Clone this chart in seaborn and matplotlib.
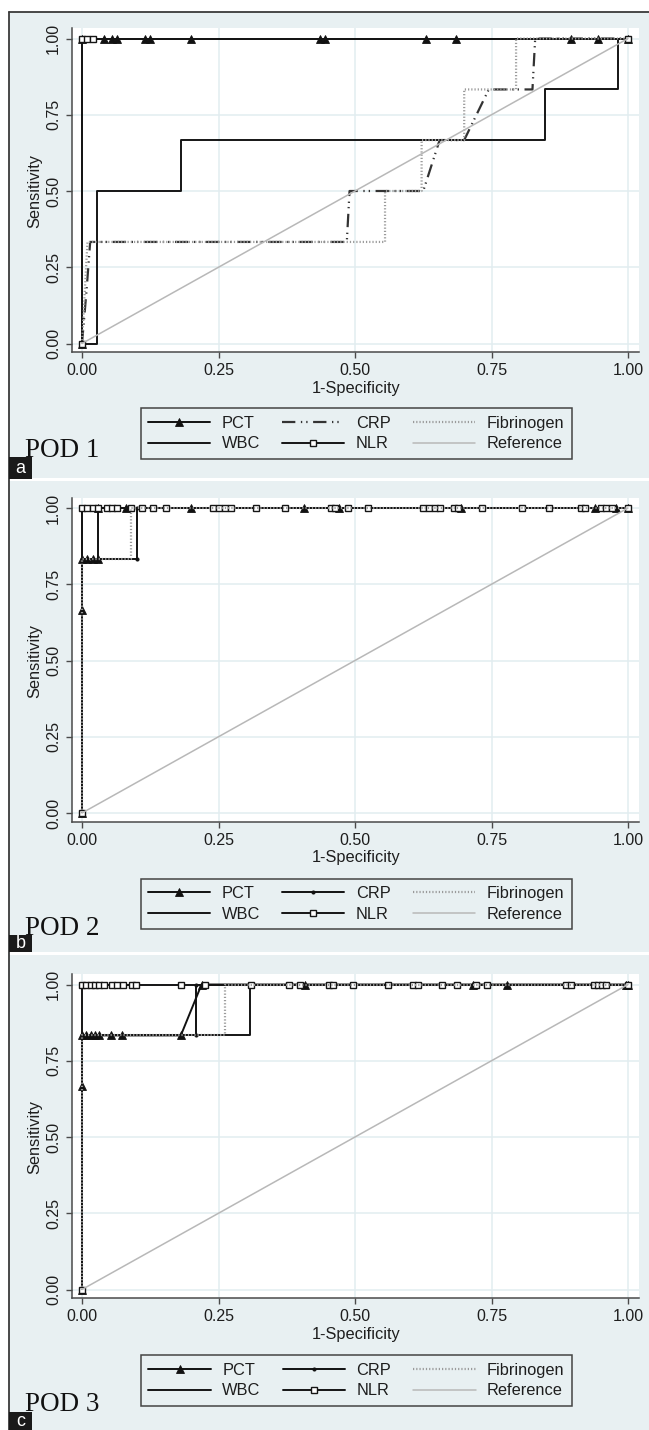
import matplotlib
matplotlib.use("Agg")
import matplotlib.pyplot as plt
from matplotlib.patches import Rectangle
from matplotlib.lines import Line2D
import seaborn as sns

sns.set_theme(style="white")
plt.rcParams['font.family'] = ['Liberation Sans', 'DejaVu Sans']

# ------------------------------------------------------------------ data
TICKS = [0.0, 0.25, 0.50, 0.75, 1.00]
TICK_LABELS = ["0.00", "0.25", "0.50", "0.75", "1.00"]
SERIES = ["PCT", "CRP", "Fibrinogen", "WBC", "NLR", "Reference"]
PANEL_TITLES = ["POD 1", "POD 2", "POD 3"]
PANEL_LETTERS = ["a", "b", "c"]

# POD 1
pod1_pct_x = [0, 0, 0.04, 0.055, 0.065, 0.115, 0.125, 0.20, 0.435, 0.445, 0.63, 0.685, 0.895, 0.945, 1.0]
pod1_pct_y = [0, 1, 1, 1, 1, 1, 1, 1, 1, 1, 1, 1, 1, 1, 1]
pod1_crp_x = [0, 0.008, 0.015, 0.485, 0.49, 0.625, 0.655, 0.70, 0.745, 0.825, 0.83, 1.0]
pod1_crp_y = [0, 0.167, 0.333, 0.333, 0.5, 0.5, 0.667, 0.667, 0.833, 0.833, 1.0, 1.0]
pod1_fib_x = [0, 0.005, 0.01, 0.555, 0.555, 0.622, 0.622, 0.70, 0.70, 0.795, 0.795, 1.0]
pod1_fib_y = [0, 0.167, 0.333, 0.333, 0.5, 0.5, 0.667, 0.667, 0.833, 0.833, 1.0, 1.0]
pod1_wbc_x = [0, 0.028, 0.028, 0.181, 0.181, 0.848, 0.848, 0.982, 0.982, 1.0]
pod1_wbc_y = [0, 0, 0.5, 0.5, 0.667, 0.667, 0.833, 0.833, 1.0, 1.0]
pod1_nlr_x = [0, 0, 0.01, 0.02, 1.0]
pod1_nlr_y = [0, 1, 1, 1, 1]

# POD 2
pod2_pct_x = [0, 0, 0, 0.01, 0.02, 0.029, 0.029, 0.081, 0.20, 0.406, 0.47, 0.695, 0.94, 0.978, 1.0]
pod2_pct_y = [0, 0.667, 0.833, 0.833, 0.833, 0.833, 1, 1, 1, 1, 1, 1, 1, 1, 1]
pod2_crp_x = [0, 0, 0.10, 0.10, 1.0]
pod2_crp_y = [0, 0.833, 0.833, 1.0, 1.0]
pod2_fib_x = [0, 0, 0.09, 0.09, 1.0]
pod2_fib_y = [0, 0.833, 0.833, 1.0, 1.0]
pod2_wbc_x = [0, 0, 1.0]
pod2_wbc_y = [0, 1.0, 1.0]
pod2_nlr_x = [0, 0, 0.01, 0.02, 0.03, 0.045, 0.055, 0.065, 0.09, 0.11, 0.13, 0.153, 0.24, 0.25,
              0.262, 0.272, 0.318, 0.371, 0.456, 0.463, 0.488, 0.524, 0.625, 0.636, 0.647, 0.656,
              0.681, 0.689, 0.732, 0.806, 0.856, 0.914, 0.922, 0.95, 0.96, 0.97, 1.0]
pod2_nlr_y = [0] + [1] * 36

# POD 3
pod3_pct_x = [0, 0, 0, 0.008, 0.016, 0.024, 0.032, 0.054, 0.073, 0.181, 0.219, 0.408, 0.716, 0.778, 0.997, 1.0]
pod3_pct_y = [0, 0.667, 0.833, 0.833, 0.833, 0.833, 0.833, 0.833, 0.833, 0.833, 1, 1, 1, 1, 1, 1]
pod3_crp_x = [0, 0, 0.208, 0.208, 1.0]
pod3_crp_y = [0, 0.833, 0.833, 1.0, 1.0]
pod3_fib_x = [0, 0, 0.262, 0.262, 1.0]
pod3_fib_y = [0, 0.833, 0.833, 1.0, 1.0]
pod3_wbc_x = [0, 0, 0.308, 0.308, 1.0]
pod3_wbc_y = [0, 0.833, 0.833, 1.0, 1.0]
pod3_nlr_x = [0, 0, 0.008, 0.016, 0.024, 0.032, 0.04, 0.055, 0.065, 0.075, 0.091, 0.098, 0.182, 0.226,
              0.31, 0.38, 0.399, 0.452, 0.46, 0.497, 0.56, 0.607, 0.615, 0.66, 0.687, 0.721, 0.742,
              0.887, 0.895, 0.937, 0.945, 0.953, 0.96, 1.0]
pod3_nlr_y = [0] + [1] * 33

ref_x = [0, 1]
ref_y = [0, 1]

PANELS = [
    dict(pct=(pod1_pct_x, pod1_pct_y), crp=(pod1_crp_x, pod1_crp_y), fib=(pod1_fib_x, pod1_fib_y),
         wbc=(pod1_wbc_x, pod1_wbc_y), nlr=(pod1_nlr_x, pod1_nlr_y), crp_dashed=True),
    dict(pct=(pod2_pct_x, pod2_pct_y), crp=(pod2_crp_x, pod2_crp_y), fib=(pod2_fib_x, pod2_fib_y),
         wbc=(pod2_wbc_x, pod2_wbc_y), nlr=(pod2_nlr_x, pod2_nlr_y), crp_dashed=False),
    dict(pct=(pod3_pct_x, pod3_pct_y), crp=(pod3_crp_x, pod3_crp_y), fib=(pod3_fib_x, pod3_fib_y),
         wbc=(pod3_wbc_x, pod3_wbc_y), nlr=(pod3_nlr_x, pod3_nlr_y), crp_dashed=False),
]

# ------------------------------------------------------------------ layout
W, H = 649, 1430
DPI = 100
BG = "#e8f0f2"
GRID = "#e2edf0"
AX_COL = "#4a4a4a"
TXT = "#1e1e1e"

fig = plt.figure(figsize=(W / DPI, H / DPI), dpi=DPI)
fig.patch.set_facecolor("white")


def fx(px):
    return px / W


def fy(py):
    return 1 - py / H


def rect(x0, y0, x1, y1, **kw):
    r = Rectangle((fx(x0), fy(y1)), fx(x1) - fx(x0), fy(y0) - fy(y1),
                  transform=fig.transFigure, **kw)
    fig.patches.append(r)


# panel frames (top px, bottom px)
frames = [(12, 478.5), (481, 952), (955, 1431)]
for (t, b) in frames:
    rect(9, t, 650, b, facecolor=BG, edgecolor="none", zorder=-2)
fig.lines.append(Line2D([fx(9), fx(9)], [fy(12), fy(1431)], transform=fig.transFigure,
                        color="#3a3a3a", lw=1.3, zorder=-1))
fig.lines.append(Line2D([fx(9), fx(650)], [fy(12), fy(12)], transform=fig.transFigure,
                        color="#3a3a3a", lw=1.3, zorder=-1))

offsets = [0, 469.5, 946]
legend_centers = [(356, 433.5), (356, 904), (356.5, 1380.5)]
pod_baselines = [457, 935, 1411]
letter_boxes = [(457, 479), (935, 952), (1412, 1430)]

AX_L, AX_R, AX_T, AX_B = 72, 639, 28, 352
X0PX, X1PX = 82, 628          # data 0 and 1 in x
Y1PX, Y0PX = 38.5, 343.5      # data 1 and 0 in y
xlim = ((AX_L - X0PX) / (X1PX - X0PX), (AX_R - X0PX) / (X1PX - X0PX))
ylim = ((Y0PX - AX_B) / (Y0PX - Y1PX), (Y0PX - AX_T) / (Y0PX - Y1PX))

for i, pdata in enumerate(PANELS):
    dy = offsets[i]
    ax = fig.add_axes([fx(AX_L), fy(AX_B + dy), fx(AX_R) - fx(AX_L), (AX_B - AX_T) / H])
    ax.set_facecolor("white")
    ax.set_xlim(*xlim)
    ax.set_ylim(*ylim)
    ax.set_xticks(TICKS)
    ax.set_yticks(TICKS)
    ax.set_xticklabels(TICK_LABELS)
    ax.set_yticklabels(TICK_LABELS, rotation=90, va="center")
    ax.grid(True, color=GRID, lw=1.1, zorder=0)
    ax.set_axisbelow(True)
    for s in ["top", "right"]:
        ax.spines[s].set_visible(False)
    for s in ["left", "bottom"]:
        ax.spines[s].set_color(AX_COL)
        ax.spines[s].set_linewidth(1.1)
    ax.tick_params(axis="both", direction="out", length=4, width=1, color=AX_COL,
                   labelsize=11.5, labelcolor=TXT, pad=4, left=True, bottom=True)

    common = dict(ax=ax, sort=False, estimator=None)
    # PCT
    sns.lineplot(x=pdata["pct"][0], y=pdata["pct"][1], color="#111111", lw=1.4, marker="^",
                 markersize=5.2, markeredgecolor="#111111", markerfacecolor="#111111",
                 markeredgewidth=0.6, label="PCT", zorder=3, **common)
    # CRP
    if pdata["crp_dashed"]:
        sns.lineplot(x=pdata["crp"][0], y=pdata["crp"][1], color="#333333", lw=1.6,
                     linestyle=(0, (6, 2.5, 0.6, 1.8, 0.6, 2.5)), label="CRP", zorder=3.1, **common)
    else:
        sns.lineplot(x=pdata["crp"][0], y=pdata["crp"][1], color="#111111", lw=1.4, marker="o",
                     markersize=2.2, markeredgecolor="#111111", markerfacecolor="#111111",
                     label="CRP", zorder=3.1, **common)
    # WBC
    sns.lineplot(x=pdata["wbc"][0], y=pdata["wbc"][1], color="#151515", lw=1.4,
                 label="WBC", zorder=3.2, **common)
    # NLR
    sns.lineplot(x=pdata["nlr"][0], y=pdata["nlr"][1], color="#151515", lw=1.4, marker="s",
                 markersize=4.4, markeredgecolor="#151515", markerfacecolor="white",
                 markeredgewidth=1.0, label="NLR", zorder=3.3, **common)
    # Fibrinogen
    sns.lineplot(x=pdata["fib"][0], y=pdata["fib"][1], color="#9a9a9a", lw=1.6,
                 linestyle=(0, (0.55, 0.9)), label="Fibrinogen", zorder=3.5, **common)
    # Reference
    sns.lineplot(x=ref_x, y=ref_y, color="#b8b8b8", lw=1.1, label="Reference", zorder=3.6, **common)

    handles, labels = ax.get_legend_handles_labels()
    hmap = dict(zip(labels, handles))
    order = ["PCT", "WBC", "CRP", "NLR", "Fibrinogen", "Reference"]
    lcx, lcy = legend_centers[i]
    leg = ax.legend([hmap[k] for k in order], order, loc="center",
                    bbox_to_anchor=(fx(lcx), fy(lcy)), bbox_transform=fig.transFigure,
                    ncol=3, fontsize=11.8, frameon=True, fancybox=False, framealpha=1,
                    facecolor=BG, edgecolor="#444444", handlelength=3.8, handletextpad=0.7,
                    columnspacing=1.35, borderpad=0.45, labelspacing=0.35, borderaxespad=0)
    leg.get_frame().set_linewidth(1.1)
    for t in leg.get_texts():
        t.set_color(TXT)

    ax.set_xlabel("")
    ax.set_ylabel("")
    # axis titles
    fig.text(fx(356), fy(388 + dy), "1-Specificity", ha="center", va="center",
             fontsize=11.8, color=TXT)
    fig.text(fx(35), fy(191 + dy), "Sensitivity", ha="center", va="center",
             rotation=90, fontsize=11.8, color=TXT)

    # POD label
    fig.text(fx(25), fy(pod_baselines[i]), PANEL_TITLES[i], ha="left", va="baseline",
             fontsize=19.5, family=["Liberation Serif", "DejaVu Serif"], color="#111111")
    # letter box
    t0, t1 = letter_boxes[i]
    rect(9, t0, 32, t1, facecolor="#1a1a1a", edgecolor="none", zorder=5)
    fig.text(fx(20.5), fy((t0 + t1) / 2 + 0.5), PANEL_LETTERS[i], ha="center", va="center",
             fontsize=13, color="white", zorder=6)

fig.savefig("out.png", dpi=DPI, facecolor="white")
